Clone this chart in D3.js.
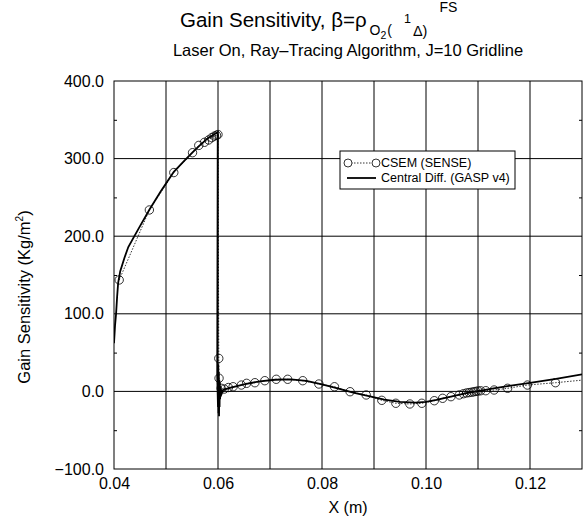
<!DOCTYPE html>
<html>
<head>
<meta charset="utf-8">
<script src="https://cdn.jsdelivr.net/npm/d3@7"></script>
<style>
  body { margin: 0; background: #fff; }
  text { font-family: "Liberation Sans", Arial, sans-serif; fill: #000; }
</style>
</head>
<body>
<div id="container"></div>
<script>
// CSEM (SENSE) sample points
var csemX = [0.0410, 0.0468, 0.0515, 0.0551, 0.0563, 0.0574, 0.0582, 0.0588, 0.0593, 0.0597, 0.0600,
             0.06015, 0.0602, 0.0606, 0.0612, 0.0620, 0.0629, 0.0645, 0.0655, 0.0671, 0.0690, 0.0712,
             0.0734, 0.0763, 0.0794, 0.0824, 0.0854, 0.0885, 0.0915, 0.0942, 0.0969, 0.0992, 0.1016,
             0.1032, 0.1048, 0.1064, 0.1072, 0.1078, 0.1083, 0.1088, 0.1092, 0.1096, 0.1100, 0.1105,
             0.1115, 0.1131, 0.1157, 0.1195, 0.1249, 0.1300];
var csemY = [143.6, 233.8, 282.0, 307.6, 317.0, 321.0, 324.0, 327.0, 329.0, 330.0, 331.0,
             42.5, 17.0, 4.0, 3.0, 5.0, 6.0, 8.2, 10.4, 11.2, 13.8, 15.6,
             15.6, 13.8, 9.5, 6.0, -0.4, -4.6, -11.5, -15.3, -16.2, -15.3, -12.0,
             -8.9, -6.8, -4.6, -3.0, -2.0, -1.5, -1.0, -0.5, 0.0, 0.5, 0.8,
             0.9, 1.8, 4.0, 8.2, 11.2, 14.5];

// Central Diff. (GASP v4) curve
var cdX = [0.0400, 0.0402, 0.0404, 0.0406, 0.0408, 0.0412, 0.0420, 0.04275, 0.0440, 0.0450,
           0.0468, 0.0490, 0.0515, 0.0535, 0.0551, 0.0565, 0.0580, 0.0597, 0.05995, 0.05985,
           0.0600, 0.06005, 0.0601, 0.06015, 0.0602, 0.06025, 0.0603, 0.06035, 0.0604, 0.0605,
           0.0607, 0.0610, 0.0615, 0.0625, 0.0650, 0.0680, 0.0710, 0.0740, 0.0770, 0.0800,
           0.0830, 0.0860, 0.0890, 0.0920, 0.0950, 0.0980, 0.1000, 0.1020, 0.1050, 0.1080,
           0.1100, 0.1130, 0.1160, 0.1200, 0.1250, 0.1300];
var cdY = [62, 85, 100, 122, 140, 155, 172, 186, 201, 213,
           234, 258, 283, 297, 308, 317, 326, 333, 334, 20,
           -20, 35, -28, 25, -32, 15, -20, 12, -10, 6,
           -3, 2, 3, 5, 9, 13, 15, 15.5, 13.5, 9,
           4, -1.5, -6, -10.5, -13.5, -14.5, -13.5, -11, -6.5, -2,
           0.5, 4, 7, 11, 16, 22];

var xTicks = [0.04, 0.06, 0.08, 0.10, 0.12];
var xGrid = [0.05, 0.06, 0.07, 0.08, 0.09, 0.10, 0.11, 0.12];
var yTicks = [-100, 0, 100, 200, 300, 400];
var yMinor = [-50, 50, 150, 250, 350];
var legendLabels = ["CSEM  (SENSE)", "Central Diff. (GASP v4)"];

var width = 583, height = 519;
var margin = {top: 81, right: 1, bottom: 50, left: 114};
var w = width - margin.left - margin.right;
var h = height - margin.top - margin.bottom;

var svg = d3.select("#container").append("svg")
  .attr("width", width)
  .attr("height", height);

var x = d3.scaleLinear().domain([0.04, 0.13]).range([0, w]);
var y = d3.scaleLinear().domain([-100, 400]).range([h, 0]);

var g = svg.append("g")
  .attr("transform", "translate(" + margin.left + "," + margin.top + ")");

g.append("clipPath").attr("id", "clip")
  .append("rect").attr("width", w).attr("height", h);

// Grid lines
g.selectAll(".vgrid").data(xGrid).enter().append("line")
  .attr("x1", function(d) { return x(d); })
  .attr("x2", function(d) { return x(d); })
  .attr("y1", 0).attr("y2", h)
  .attr("stroke", "#000").attr("stroke-width", 1);
g.selectAll(".hgrid").data(yTicks.slice(1, -1)).enter().append("line")
  .attr("x1", 0).attr("x2", w)
  .attr("y1", function(d) { return y(d); })
  .attr("y2", function(d) { return y(d); })
  .attr("stroke", "#000").attr("stroke-width", 1);

// Frame
g.append("rect").attr("width", w).attr("height", h)
  .attr("fill", "none").attr("stroke", "#000").attr("stroke-width", 1);

// Axes
g.append("g")
  .attr("transform", "translate(0," + h + ")")
  .call(d3.axisBottom(x).tickValues(xTicks).tickSize(0).tickPadding(9)
    .tickFormat(d3.format(".2f")))
  .call(function(a) { a.select(".domain").remove(); })
  .selectAll("text").style("font-size", "16px");

g.append("g")
  .call(d3.axisLeft(y).tickValues(yTicks).tickSize(0).tickPadding(10)
    .tickFormat(d3.format(".1f")))
  .call(function(a) { a.select(".domain").remove(); })
  .selectAll("text").style("font-size", "16px");

// Minor ticks on left and right
g.append("g")
  .call(d3.axisRight(y).tickValues(yMinor).tickSize(3).tickFormat(""))
  .call(function(a) { a.select(".domain").remove(); });
g.append("g")
  .attr("transform", "translate(" + w + ",0)")
  .call(d3.axisLeft(y).tickValues(yMinor).tickSize(3).tickFormat(""))
  .call(function(a) { a.select(".domain").remove(); });

var plot = g.append("g").attr("clip-path", "url(#clip)");

var csem = csemX.map(function(v, i) { return {x: v, y: csemY[i]}; });
var cd = cdX.map(function(v, i) { return {x: v, y: cdY[i]}; });

var line = d3.line()
  .x(function(d) { return x(d.x); })
  .y(function(d) { return y(d.y); });

plot.append("path").datum(cd)
  .attr("d", line)
  .attr("fill", "none").attr("stroke", "#000").attr("stroke-width", 1.8);

plot.append("path").datum(csem)
  .attr("d", line)
  .attr("fill", "none").attr("stroke", "#000").attr("stroke-width", 0.8)
  .attr("stroke-dasharray", "1.5,1.5");

plot.selectAll(".pt").data(csem.filter(function(d) { return d.x < 0.13; }))
  .enter().append("circle")
  .attr("cx", function(d) { return x(d.x); })
  .attr("cy", function(d) { return y(d.y); })
  .attr("r", 4.2)
  .attr("fill", "none").attr("stroke", "#000").attr("stroke-width", 0.8);

// Legend
var lg = svg.append("g").attr("transform", "translate(340,151)");
lg.append("rect").attr("width", 175).attr("height", 38)
  .attr("fill", "#fff").attr("stroke", "#000").attr("stroke-width", 1);
lg.append("line").attr("x1", 8).attr("x2", 36).attr("y1", 12).attr("y2", 12)
  .attr("stroke", "#000").attr("stroke-width", 0.8).attr("stroke-dasharray", "1.5,1.5");
lg.selectAll(".lc").data([8, 36]).enter().append("circle")
  .attr("cx", function(d) { return d; }).attr("cy", 12).attr("r", 4)
  .attr("fill", "#fff").attr("stroke", "#000").attr("stroke-width", 0.8);
lg.append("line").attr("x1", 7).attr("x2", 36).attr("y1", 27).attr("y2", 27)
  .attr("stroke", "#000").attr("stroke-width", 1.8);
lg.selectAll(".lt").data(legendLabels).enter().append("text")
  .attr("x", 41).attr("y", function(d, i) { return 16 + i * 15; })
  .style("font-size", "12.5px")
  .text(function(d) { return d; });

// Axis labels
svg.append("text")
  .attr("x", margin.left + w / 2).attr("y", 513)
  .style("text-anchor", "middle").style("font-size", "16px")
  .text("X (m)");

var yl = svg.append("text")
  .attr("transform", "translate(30,297) rotate(-90)")
  .style("text-anchor", "middle").style("font-size", "16.5px");
yl.append("tspan").text("Gain Sensitivity (Kg/m");
yl.append("tspan").attr("dy", -7).style("font-size", "10px").text("2");
yl.append("tspan").attr("dy", 7).text(")");

// Title
var t = svg.append("text").attr("x", 180).attr("y", 27).style("font-size", "20.5px");
t.append("tspan").text("Gain Sensitivity, \u03B2=\u03C1");
t.append("tspan").attr("dx", 3).attr("dy", 8).style("font-size", "14px").text("O");
t.append("tspan").attr("dy", 4).style("font-size", "10.5px").text("2");
t.append("tspan").attr("dx", 1).attr("dy", -4).style("font-size", "14px").text("(");
t.append("tspan").attr("dx", 12).attr("dy", -12).style("font-size", "12.5px").text("1");
t.append("tspan").attr("dx", 2).attr("dy", 13).style("font-size", "14.5px").text("\u0394)");
t.append("tspan").attr("dx", 12).attr("dy", -24).style("font-size", "14px").text("FS");

svg.append("text")
  .attr("x", margin.left + w / 2).attr("y", 56)
  .style("text-anchor", "middle").style("font-size", "16.5px")
  .text("Laser On, Ray\u2013Tracing Algorithm, J=10 Gridline");
</script>
</body>
</html>
